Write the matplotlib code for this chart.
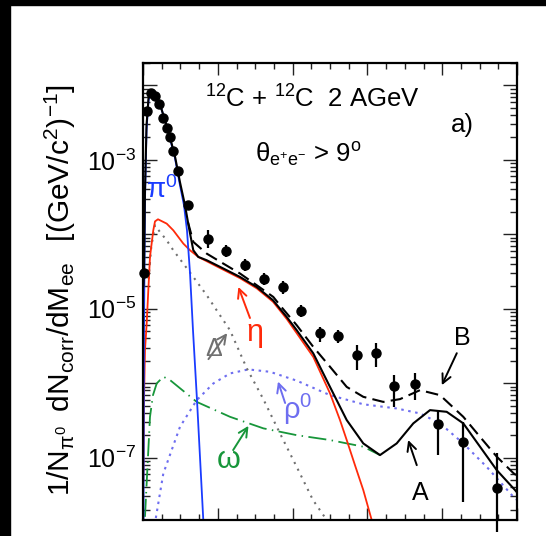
import numpy as np
import matplotlib
matplotlib.use('Agg')
import matplotlib.pyplot as plt
from matplotlib.ticker import MultipleLocator, FixedLocator, FuncFormatter, NullFormatter
from matplotlib.patches import Rectangle

plt.rcParams['font.family'] = ['Liberation Sans', 'DejaVu Sans']
plt.rcParams['mathtext.fontset'] = 'custom'
plt.rcParams['mathtext.rm'] = 'Liberation Sans'
plt.rcParams['mathtext.it'] = 'Liberation Sans:italic'
plt.rcParams['mathtext.default'] = 'regular'

# measured points (M_ee in GeV/c^2)
m_data = [0.003, 0.010, 0.021, 0.032, 0.044, 0.053, 0.063, 0.072, 0.081, 0.093, 0.121, 0.173, 0.222,
          0.273, 0.324, 0.374, 0.422, 0.473, 0.522, 0.573, 0.622, 0.672, 0.727, 0.790, 0.856, 0.947]
y_data = [3.0e-5, 4.6e-3, 7.8e-3, 7.1e-3, 5.7e-3, 3.7e-3, 2.65e-3, 2.0e-3, 1.3e-3, 7.0e-4, 2.45e-4, 8.6e-5, 5.9e-5,
          3.84e-5, 2.49e-5, 1.95e-5, 9.25e-6, 4.69e-6, 4.27e-6, 2.38e-6, 2.53e-6, 9.1e-7, 9.7e-7, 2.82e-7, 1.62e-7, 3.9e-8]
y_hi = [3.0e-5, 4.6e-3, 7.8e-3, 7.1e-3, 5.7e-3, 3.7e-3, 2.65e-3, 2.0e-3, 1.3e-3, 7.0e-4, 2.45e-4, 1.13e-4, 7.1e-5,
        4.6e-5, 3.0e-5, 2.35e-5, 1.11e-5, 5.65e-6, 5.14e-6, 3.24e-6, 3.44e-6, 1.28e-6, 1.36e-6, 4.35e-7, 3.0e-7, 1.15e-7]
y_lo = [3.0e-5, 4.6e-3, 7.8e-3, 7.1e-3, 5.7e-3, 3.7e-3, 2.65e-3, 2.0e-3, 1.3e-3, 7.0e-4, 2.45e-4, 6.5e-5, 4.9e-5,
        3.2e-5, 2.1e-5, 1.6e-5, 7.7e-6, 3.55e-6, 3.44e-6, 1.49e-6, 1.64e-6, 4.77e-7, 5.9e-7, 1.08e-7, 2.53e-8, 1.0e-8]

# pi0 Dalitz
m_pi0 = [0.0012, 0.0027, 0.0053, 0.0094, 0.0147, 0.0214, 0.0321, 0.0455, 0.0588, 0.0722, 0.0856, 0.0989,
         0.1096, 0.1176, 0.1257, 0.1337, 0.1444, 0.1612, 0.163]
y_pi0 = [1.0e-8, 5.1e-6, 2.86e-4, 2.49e-3, 6.3e-3, 8.05e-3, 7.3e-3, 5.56e-3, 3.39e-3, 1.94e-3, 1.05e-3, 4.55e-4,
         2.45e-4, 1.13e-4, 3.0e-5, 5.1e-6, 5.9e-7, 1.45e-8, 8e-9]

# eta Dalitz
m_eta = [0.001, 0.0027, 0.0053, 0.0099, 0.0142, 0.0187, 0.0275, 0.0321, 0.0401, 0.0634, 0.0810, 0.1078, 0.1257,
         0.1479, 0.1703, 0.2147, 0.2594, 0.3040, 0.3476, 0.3842, 0.4110, 0.4553, 0.5000, 0.5267, 0.5447,
         0.5668, 0.5890, 0.6115, 0.6203]
y_eta = [5.0e-8, 5.9e-7, 2.77e-6, 6.4e-6, 1.77e-5, 4.96e-5, 1.13e-4, 1.49e-4, 1.59e-4, 1.39e-4, 1.13e-4, 7.5e-5, 6.1e-5,
         4.96e-5, 4.34e-5, 3.34e-5, 2.57e-5, 1.88e-5, 1.24e-5, 7.3e-6, 4.69e-6, 2.25e-6, 7.3e-7, 3.19e-7, 1.72e-7,
         7.9e-8, 3.66e-8, 1.45e-8, 1.0e-8]

# Delta Dalitz
m_delta = [0.015, 0.022, 0.0321, 0.0455, 0.0634, 0.0810, 0.1078, 0.1345, 0.1703, 0.1971, 0.2326, 0.2773, 0.3217,
           0.3663, 0.4110, 0.4545, 0.4912, 0.500]
y_delta = [2.5e-5, 6.7e-5, 1.32e-4, 1.07e-4, 8.3e-5, 6.1e-5, 4.04e-5, 2.67e-5, 1.52e-5, 9.5e-6, 5.14e-6, 1.59e-6,
           6.1e-7, 2.11e-7, 7.5e-8, 2.69e-8, 1.45e-8, 1.1e-8]

# rho0
m_rho = [0.028, 0.0543, 0.0989, 0.1436, 0.1880, 0.2326, 0.2816, 0.3396, 0.4110, 0.5000, 0.5890, 0.6783, 0.7406,
         0.7941, 0.8564, 0.9190, 0.9901, 1.0]
y_rho = [1.0e-8, 6.1e-8, 2.59e-7, 5.9e-7, 9.9e-7, 1.35e-6, 1.53e-6, 1.42e-6, 1.08e-6, 6.9e-7, 5.2e-7, 4.57e-7, 3.92e-7,
         2.88e-7, 1.55e-7, 7.5e-8, 2.98e-8, 2.7e-8]

# omega
m_omega = [0.0053, 0.0187, 0.0267, 0.0366, 0.0543, 0.0722, 0.1436, 0.2326, 0.3217, 0.4110, 0.5000, 0.5890, 0.6337]
y_omega = [1.6e-8, 3.53e-7, 6.9e-7, 9.9e-7, 1.22e-6, 1.10e-6, 5.6e-7, 3.53e-7, 2.47e-7, 2.0e-7, 1.72e-7, 1.40e-7, 1.08e-7]

# sum, scenario A (solid)
m_a = [0.001, 0.0027, 0.0053, 0.0094, 0.0147, 0.0214, 0.0321, 0.0455, 0.0588, 0.0722, 0.0856, 0.0989, 0.1123,
       0.1203, 0.1257, 0.1345, 0.1479, 0.1703, 0.2147, 0.2594, 0.3040, 0.3476, 0.3842, 0.4110, 0.4553, 0.5000,
       0.5447, 0.5890, 0.6337, 0.6783, 0.7227, 0.7674, 0.8120, 0.8564, 0.9011, 0.9457, 0.9947, 1.0]
y_a = [2.0e-5, 3.0e-5, 3.9e-4, 2.9e-3, 6.7e-3, 8.3e-3, 7.3e-3, 5.56e-3, 3.39e-3, 2.0e-3, 1.11e-3, 5.0e-4, 2.45e-4,
       1.45e-4, 1.03e-4, 6.1e-5, 4.96e-5, 4.48e-5, 3.47e-5, 2.67e-5, 1.96e-5, 1.30e-5, 7.76e-6, 5.14e-6, 2.51e-6,
       8.9e-7, 3.19e-7, 1.55e-7, 1.08e-7, 1.55e-7, 2.88e-7, 4.34e-7, 4.12e-7, 2.88e-7, 1.40e-7, 6.8e-8, 3.66e-8, 3.4e-8]

# sum, scenario B (dashed)
m_b = [0.1203, 0.1345, 0.1703, 0.2147, 0.2594, 0.3040, 0.3484, 0.3663, 0.4110, 0.4553, 0.5000, 0.5447, 0.5890,
       0.6425, 0.6872, 0.7406, 0.7941, 0.8564, 0.9011, 0.9457, 0.9901, 1.0]
y_b = [1.45e-4, 7.9e-5, 5.5e-5, 4.04e-5, 2.97e-5, 2.07e-5, 1.44e-5, 1.11e-5, 6.0e-6, 3.07e-6, 1.66e-6, 8.9e-7, 6.55e-7,
       5.6e-7, 6.1e-7, 8.05e-7, 6.9e-7, 3.53e-7, 1.90e-7, 1.03e-7, 6.2e-8, 5.7e-8]

y_decades = [1e-8, 1e-7, 1e-6, 1e-5, 1e-4, 1e-3, 1e-2]

c_pi0 = '#1a3cff'
c_eta = '#ff2a0a'
c_delta = '#707070'
c_rho = '#6e6ef0'
c_omega = '#17963a'

fig = plt.figure(figsize=(5.46, 5.36), dpi=100)
fig.patches.append(Rectangle((0, 1 - 5 / 536), 1, 5 / 536, transform=fig.transFigure, color='black', zorder=0))
fig.patches.append(Rectangle((0, 0), 10 / 546, 1, transform=fig.transFigure, color='black', zorder=0))

ax = fig.add_axes([143 / 546, 16 / 536, 374 / 546, 457 / 536])
ax.set_yscale('log')

ax.plot(m_omega, y_omega, color=c_omega, lw=1.3, ls=(0, (10, 3, 0.8, 3)))
ax.plot(m_rho, y_rho, color=c_rho, lw=1.5, ls=(0, (1.2, 2.2)))
ax.plot(m_delta, y_delta, color=c_delta, lw=1.5, ls=(0, (1.0, 2.6)))
ax.plot(m_eta, y_eta, color=c_eta, lw=1.3)
ax.plot(m_pi0, y_pi0, color=c_pi0, lw=1.3)
ax.plot(m_b, y_b, color='black', lw=1.5, ls=(0, (6, 3)))
ax.plot(m_a, y_a, color='black', lw=1.5)

yd = np.array(y_data)
yerr = [yd - np.array(y_lo), np.array(y_hi) - yd]
ax.errorbar(m_data, y_data, yerr=yerr, fmt='o', color='black', ms=6.5, elinewidth=1.6, capsize=0,
            clip_on=False, zorder=5)

ax.set_xlim(0, 1.0)
ax.set_ylim(1.45e-8, 2.0e-2)

ax.xaxis.set_major_locator(MultipleLocator(0.2))
ax.xaxis.set_minor_locator(MultipleLocator(0.05))
ax.xaxis.set_major_formatter(NullFormatter())
ax.yaxis.set_major_locator(FixedLocator(y_decades))
ax.yaxis.set_minor_locator(FixedLocator([d * k for d in y_decades for k in range(2, 10)]))
ax.yaxis.set_minor_formatter(NullFormatter())


def ylab(v, pos):
    e = int(round(np.log10(v)))
    if e % 2 != 0:
        return '$10^{%d}$' % e
    return ''


ax.yaxis.set_major_formatter(FuncFormatter(ylab))
ax.tick_params(which='both', direction='in', top=True, right=True, width=1.0, color='#222222')
ax.tick_params(axis='x', which='major', length=8.6)
ax.tick_params(axis='x', which='minor', length=4.3)
ax.tick_params(axis='y', which='major', length=10, labelsize=18, pad=5)
ax.tick_params(axis='y', which='minor', length=5)
for s in ax.spines.values():
    s.set_linewidth(1.6)

fig.text(60 / 546, 1 - 290 / 536, r'$1/N_{\pi^0}\;\; dN_{corr}/dM_{ee}\;\;\; [(GeV/c^2)^{-1}]$',
         rotation=90, ha='center', va='center', fontsize=21.5)

tr = ax.transAxes
ax.text(0.452, 0.921, r'$^{12}$C + $^{12}$C  2 AGeV', transform=tr, ha='center', va='center', fontsize=18.5)
ax.text(0.853, 0.864, 'a)', transform=tr, ha='center', va='center', fontsize=18.5)
ax.text(0.441, 0.799, r'$\theta_{e^{+}e^{-}}$ > 9$^{o}$', transform=tr, ha='center', va='center', fontsize=18.5)
ax.text(0.051, 0.721, r'$\pi^{0}$', transform=tr, ha='center', va='center', fontsize=20, color=c_pi0)
ax.text(0.299, 0.405, r'$\eta$', transform=tr, ha='center', va='center', fontsize=22, color=c_eta)
ax.text(0.190, 0.374, r'$\Delta$', transform=tr, ha='center', va='center', fontsize=18, color=c_delta)
ax.text(0.414, 0.241, r'$\rho^{0}$', transform=tr, ha='center', va='center', fontsize=21, color=c_rho)
ax.text(0.227, 0.131, r'$\omega$', transform=tr, ha='center', va='center', fontsize=22, color=c_omega)
ax.text(0.742, 0.060, 'A', transform=tr, ha='center', va='center', fontsize=18)
ax.text(0.854, 0.398, 'B', transform=tr, ha='center', va='center', fontsize=18)

arrows = [((0.286, 0.442), (0.255, 0.510), c_eta),
          ((0.175, 0.352), (0.225, 0.409), c_delta),
          ((0.380, 0.256), (0.361, 0.303), c_rho),
          ((0.241, 0.153), (0.282, 0.206), c_omega),
          ((0.732, 0.120), (0.709, 0.175), 'black'),
          ((0.839, 0.365), (0.799, 0.295), 'black')]
for start, tip, col in arrows:
    ax.annotate('', xy=tip, xytext=start, xycoords='axes fraction', textcoords='axes fraction',
                arrowprops=dict(arrowstyle='->', color=col, lw=1.4, shrinkA=0, shrinkB=0, mutation_scale=16))

fig.savefig('out.png', dpi=100)
